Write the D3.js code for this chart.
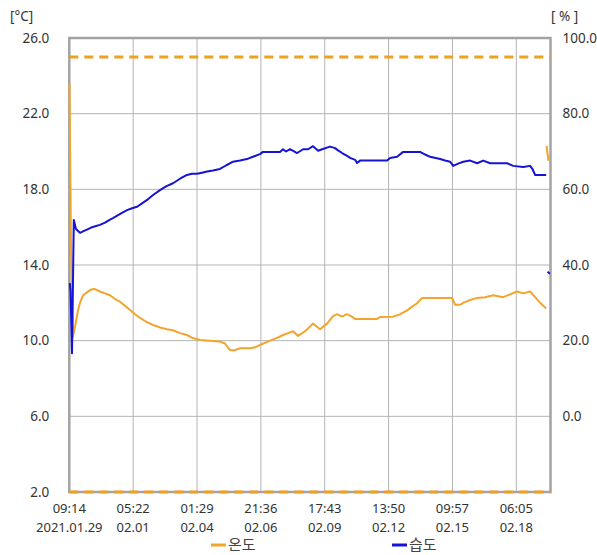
<!DOCTYPE html>
<html><head><meta charset="utf-8">
<script src="https://cdn.jsdelivr.net/npm/d3@7"></script>
<style>body{margin:0;background:#fff;}svg{display:block;font-family:"Noto Sans","Noto Sans CJK KR",sans-serif;}</style>
</head><body><svg id="c" width="597" height="555"></svg>
<script>
// hours since 2021-01-29 09:14
const tempHours = [0.2,1.8,3.9,7.1,9.3,11.4,14.6,18.8,23.1,27.4,32.7,38.1,43.4,48.8,54.1,59.4,64.8,70.1,75.5,81.9,89.3,96.8,104.2,110.6,118.1,125.5,131.9,139.4,150.1,160.7,166.1,171.4,176.7,182.1,192.8,198.1,203.4,214.1,221.6,228.0,233.3,238.7,244.0,251.5,260.0,267.5,275.0,281.4,285.6,291.0,296.3,300.6,304.9,328.3,331.5,345.4,353.0,360.4,365.8,371.1,376.4,408.4,411.6,417.0,420.2,427.6,435.1,443.6,452.2,462.8,470.3,477.8,484.2,491.6,497.0,502.3,508.7,508.9,509.1,510.1,511.2];
const tempValues = [23.6,15.0,10.2,11.0,11.6,12.0,12.4,12.55,12.7,12.73,12.6,12.5,12.4,12.2,12.06,11.85,11.62,11.4,11.2,11.0,10.83,10.7,10.6,10.55,10.4,10.3,10.14,10.04,10.0,9.95,9.85,9.5,9.5,9.6,9.6,9.65,9.77,10.0,10.15,10.3,10.4,10.5,10.25,10.5,10.9,10.6,10.9,11.3,11.4,11.27,11.4,11.3,11.15,11.15,11.25,11.27,11.4,11.6,11.8,11.98,12.26,12.26,11.9,11.9,12.0,12.15,12.26,12.3,12.4,12.3,12.45,12.6,12.5,12.6,12.3,12.0,11.7,null,20.3,19.9,19.5];
const humHours = [0.5,1.3,2.9,4.8,7.1,11.4,15.7,20.0,24.3,28.6,32.7,38.1,43.4,46.6,52.0,56.2,61.6,66.9,72.3,77.6,83.0,89.3,96.8,103.2,110.6,118.1,125.5,130.9,136.2,141.6,146.9,153.3,160.7,167.1,174.6,182.1,189.5,195.9,203.4,206.6,224.8,228.0,231.2,235.5,243.0,249.4,254.7,260.0,265.4,269.7,278.2,283.5,286.7,291.0,295.3,299.5,304.9,307.0,310.2,339.0,342.2,349.7,356.1,374.2,379.6,384.9,395.6,400.9,406.3,409.5,414.8,420.2,427.6,435.1,441.5,449.0,467.1,473.5,484.2,491.6,493.8,497.0,508.7,509.4,510.1,512.8];
const humValues = [35.2,33.0,16.7,51.9,49.5,48.5,49.0,49.5,50.0,50.3,50.6,51.2,52.0,52.4,53.2,53.8,54.5,55.0,55.4,56.3,57.2,58.5,59.8,60.8,61.6,62.8,63.8,64.1,64.1,64.4,64.7,65.0,65.4,66.3,67.3,67.6,68.0,68.6,69.3,69.9,69.9,70.6,70.0,70.6,69.6,70.6,70.6,71.4,70.2,70.6,71.3,70.9,70.3,69.6,69.0,68.3,67.8,67.0,67.6,67.6,68.3,68.6,69.9,69.9,69.2,68.6,68.0,67.6,67.3,66.2,66.8,67.3,67.6,66.9,67.6,66.9,66.9,66.2,65.9,66.2,65.5,63.8,63.8,null,38.2,37.7];
const tickDates = ["2021-01-29T09:14","2021-02-01T05:22","2021-02-04T01:29","2021-02-06T21:36","2021-02-09T17:43","2021-02-12T13:50","2021-02-15T09:57","2021-02-18T06:05"];
const tickLine1 = ["09:14","05:22","01:29","21:36","17:43","13:50","09:57","06:05"];
const tickLine2 = ["2021.01.29","02.01","02.04","02.06","02.09","02.12","02.15","02.18"];
const leftTicks = [2,6,10,14,18,22,26];
const rightTicks = [0,20,40,60,80,100];
const limits = [25,2];
const seriesNames = ["온도","습도"];

const svg = d3.select("#c");
const L=69.3,R=550.5,T=38,B=492;
const start = new Date("2021-01-29T09:14");
const end = new Date("2021-02-19T18:34");
const x = d3.scaleTime().domain([start,end]).range([L,R]);
const yT = d3.scaleLinear().domain([2,26]).range([B,T]);
const yH = d3.scaleLinear().domain([-20,100]).range([B,T]);
const hToDate = h => new Date(start.getTime()+h*3600000);
const tVals = tickDates.map(s=>new Date(s));

// grid
const g = svg.append("g");
g.selectAll(".hg").data(leftTicks).join("line")
 .attr("x1",L).attr("x2",R).attr("y1",d=>yT(d)).attr("y2",d=>yT(d))
 .attr("stroke","#b4b4b4").attr("stroke-width",1);
g.selectAll(".vg").data(tVals).join("line")
 .attr("x1",d=>x(d)).attr("x2",d=>x(d)).attr("y1",T).attr("y2",B)
 .attr("stroke","#b4b4b4").attr("stroke-width",1);

// left axis labels
const axL = d3.axisLeft(yT).tickValues(leftTicks).tickFormat(d3.format(".1f")).tickSize(0).tickPadding(20);
const gl = svg.append("g").attr("transform",`translate(${L},0)`).call(axL);
gl.select(".domain").remove();
gl.selectAll("text").attr("font-size",13.5).attr("fill","#333").attr("font-family","Noto Sans");
const axR = d3.axisRight(yH).tickValues(rightTicks).tickFormat(d3.format(".1f")).tickSize(0).tickPadding(12);
const gr = svg.append("g").attr("transform",`translate(${R},0)`).call(axR);
gr.select(".domain").remove();
gr.selectAll("text").attr("font-size",13.5).attr("fill","#333").attr("font-family","Noto Sans");

// x labels
const gx = svg.append("g").attr("font-size",13).attr("fill","#333").attr("text-anchor","middle");
gx.selectAll(".l1").data(tVals).join("text").attr("x",d=>x(d)).attr("y",513).text((d,i)=>tickLine1[i]);
gx.selectAll(".l2").data(tVals).join("text").attr("x",d=>x(d)).attr("y",532).text((d,i)=>tickLine2[i]);

// units
svg.append("text").attr("x",10).attr("y",21).attr("font-size",13.5).attr("fill","#333").text("[°C]");
svg.append("text").attr("x",551).attr("y",21).attr("font-size",13.5).attr("fill","#333").text("[ % ]");

// border
svg.append("rect").attr("x",L).attr("y",T).attr("width",R-L).attr("height",B-T)
 .attr("fill","none").attr("stroke","#a3a3a3").attr("stroke-width",2.5);

// limit lines
svg.selectAll(".lim").data(limits).join("line")
 .attr("x1",L).attr("x2",R).attr("y1",d=>yT(d)).attr("y2",d=>yT(d))
 .attr("stroke","#f0a020").attr("stroke-width",3).attr("stroke-dasharray","9,6");

const orange="#f2a42c", blue="#1414d2";
const tData = tempHours.map((h,i)=>({d:hToDate(h),v:tempValues[i]}));
const hData = humHours.map((h,i)=>({d:hToDate(h),v:humValues[i]}));
svg.append("path").datum(tData)
 .attr("d",d3.line().defined(p=>p.v!=null).x(p=>x(p.d)).y(p=>yT(p.v)))
 .attr("fill","none").attr("stroke",orange).attr("stroke-width",2).attr("stroke-linejoin","round");
svg.append("path").datum(hData)
 .attr("d",d3.line().defined(p=>p.v!=null).x(p=>x(p.d)).y(p=>yH(p.v)))
 .attr("fill","none").attr("stroke",blue).attr("stroke-width",2).attr("stroke-linejoin","round");

// legend
const leg = [{x:211,c:orange,t:seriesNames[0]},{x:392,c:blue,t:seriesNames[1]}];
const lg = svg.append("g");
lg.selectAll("line").data(leg).join("line").attr("x1",d=>d.x).attr("x2",d=>d.x+15)
 .attr("y1",545).attr("y2",545).attr("stroke",d=>d.c).attr("stroke-width",3);
lg.selectAll("text").data(leg).join("text").attr("x",d=>d.x+17).attr("y",550)
 .attr("font-size",15).attr("fill","#444").attr("font-family","Noto Sans CJK KR").text(d=>d.t);
</script></body></html>
